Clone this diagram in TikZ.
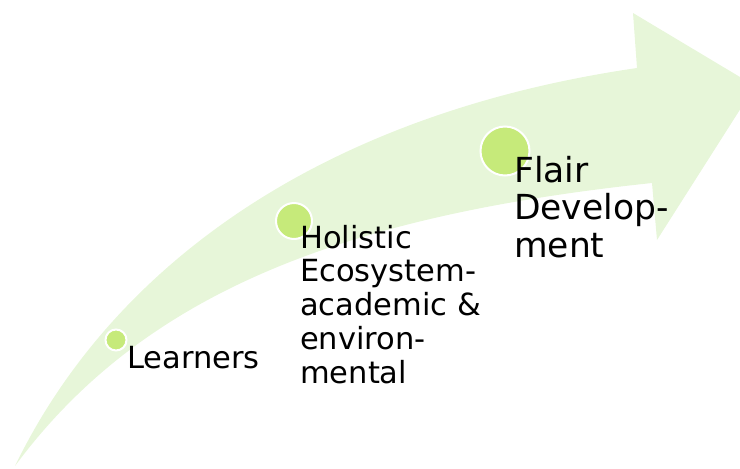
\documentclass[tikz,border=0pt]{standalone}
\usepackage{fontspec}
\setmainfont{DejaVu Sans}
\definecolor{arrowgreen}{RGB}{231,246,217}
\definecolor{dotgreen}{RGB}{198,234,122}
\begin{document}
\begin{tikzpicture}[x=1pt,y=-1pt,
  dot/.style={circle,fill=dotgreen,draw=white,line width=2pt,inner sep=0pt},
  lbl/.style={anchor=base west,align=left,inner sep=0pt,font=\fontsize{30.5}{33.75}\selectfont},
  biglbl/.style={anchor=base west,align=left,inner sep=0pt,font=\fontsize{34.5}{37.5}\selectfont}]
\useasboundingbox (0,0) rectangle (740,469);
\clip (0,0) rectangle (740,469);
% arrow
\coordinate (tail) at (15,466);
\coordinate (uc) at (637,68);
\coordinate (ht) at (633,13);
\coordinate (tip) at (755,86);
\coordinate (hb) at (657,240);
\coordinate (lc) at (652,183);
\fill[arrowgreen] (tail) .. controls (110,270) and (315,115) .. (uc)
  -- (ht) -- (tip) -- (hb) -- (lc)
  .. controls (350,215) and (145,290) .. (tail) -- cycle;
% dots
\node[dot,minimum size=21pt] (d1) at (116,340) {};
\node[dot,minimum size=36pt] (d2) at (294,221) {};
\node[dot,minimum size=49pt] (d3) at (505,151) {};
% labels (anchored at baseline of last line)
\node[lbl] (t1) at (127,368) {Learners};
\node[lbl] (t2) at (300,383) {Holistic\\Ecosystem-\\academic \&\\environ-\\mental};
\node[biglbl] (t3) at (514,257) {Flair\\Develop-\\ment};
\end{tikzpicture}
\end{document}
